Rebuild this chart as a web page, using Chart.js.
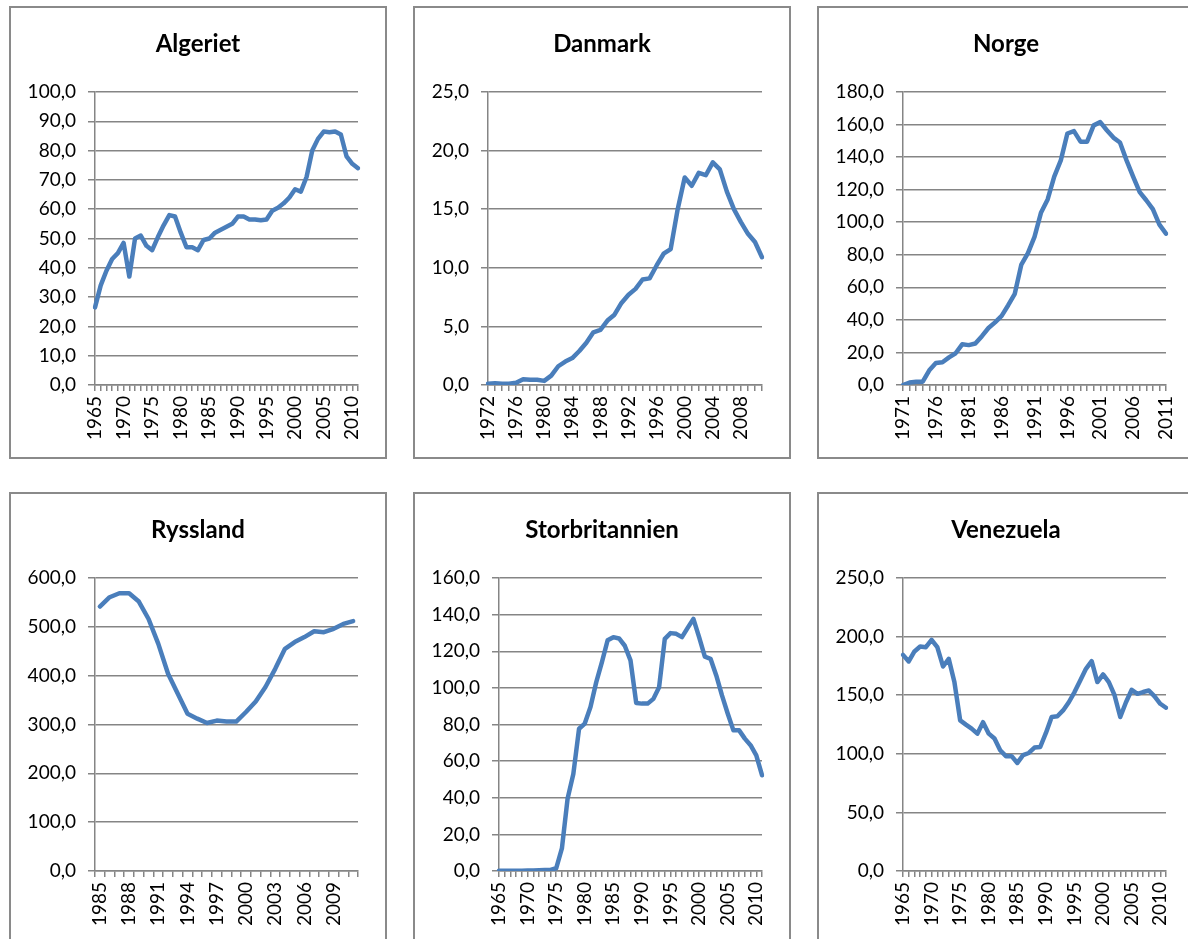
<!DOCTYPE html>
<html>
<head>
<meta charset="utf-8">
<script src="https://cdn.jsdelivr.net/npm/chart.js@4.4.0/dist/chart.umd.min.js"></script>
<style>
  html, body { margin: 0; padding: 0; background: #fff; overflow: hidden; width: 1188px; height: 939px; }
  .panel { position: absolute; width: 378px; height: 453px; box-sizing: border-box; border: 2px solid #8a8a8a; background: #fff; }
  .panel canvas { position: absolute; left: -2px; top: -2px; }
</style>
</head>
<body>
<div class="panel" style="left:9px; top:6px;"><canvas id="c1" width="378" height="453"></canvas></div>
<div class="panel" style="left:413px; top:6px;"><canvas id="c2" width="378" height="453"></canvas></div>
<div class="panel" style="left:817px; top:6px;"><canvas id="c3" width="378" height="453"></canvas></div>
<div class="panel" style="left:9px; top:492px;"><canvas id="c4" width="378" height="453"></canvas></div>
<div class="panel" style="left:413px; top:492px;"><canvas id="c5" width="378" height="453"></canvas></div>
<div class="panel" style="left:817px; top:492px;"><canvas id="c6" width="378" height="453"></canvas></div>

<script>
// categories
const years1965 = ['1965','1966','1967','1968','1969','1970','1971','1972','1973','1974','1975','1976','1977','1978','1979',
  '1980','1981','1982','1983','1984','1985','1986','1987','1988','1989','1990','1991','1992','1993','1994','1995','1996',
  '1997','1998','1999','2000','2001','2002','2003','2004','2005','2006','2007','2008','2009','2010','2011'];
const years1972 = ['1972','1973','1974','1975','1976','1977','1978','1979','1980','1981','1982','1983','1984','1985',
  '1986','1987','1988','1989','1990','1991','1992','1993','1994','1995','1996','1997','1998','1999','2000','2001','2002',
  '2003','2004','2005','2006','2007','2008','2009','2010','2011'];
const years1971 = ['1971','1972','1973','1974','1975','1976','1977','1978','1979','1980','1981','1982','1983','1984',
  '1985','1986','1987','1988','1989','1990','1991','1992','1993','1994','1995','1996','1997','1998','1999','2000','2001',
  '2002','2003','2004','2005','2006','2007','2008','2009','2010','2011'];
const years1985 = ['1985','1986','1987','1988','1989','1990','1991','1992','1993','1994','1995','1996','1997','1998',
  '1999','2000','2001','2002','2003','2004','2005','2006','2007','2008','2009','2010','2011'];

// tick labels that are printed
const ticks5from1965 = ['1965','1970','1975','1980','1985','1990','1995','2000','2005','2010'];
const ticks4from1972 = ['1972','1976','1980','1984','1988','1992','1996','2000','2004','2008'];
const ticks5from1971 = ['1971','1976','1981','1986','1991','1996','2001','2006','2011'];
const ticks3from1985 = ['1985','1988','1991','1994','1997','2000','2003','2006','2009'];

// series values
const algeriet = [26.5,34,39,43,45,48.5,37,50,51,47.5,46,50.5,54.5,58,57.5,52,47,47,46,49.5,50,52,53,54,55,57.5,57.5,
  56.5,56.5,56.2,56.5,59.5,60.5,62,64,66.8,66,71,80,84,86.5,86.3,86.5,85.5,78,75.5,74];
const danmark = [0.1,0.15,0.1,0.1,0.2,0.5,0.45,0.45,0.35,0.8,1.6,2.0,2.3,2.9,3.6,4.5,4.7,5.5,6.0,7.0,7.7,8.2,9.0,9.1,
  10.2,11.2,11.6,15.0,17.7,17.0,18.1,17.9,19.0,18.4,16.5,15.0,13.9,12.9,12.2,10.9];
const norge = [0,1.5,2,2,9,13.5,14,17,19.5,25,24.5,25.5,30,35,38.5,42.5,49,56,74,81,91,106,114,128,138,154.5,156,149.5,
  149.5,159.5,161.5,156.5,152,149,138,128,118.5,113.5,108,98.5,93];
const ryssland = [541.5,560.6,568.8,568.8,551.8,516,465,404,363,322,312,303,308,306,306,325.6,347,376.7,414,455,468.7,
  479,491,489,496,506,511.6];
const storbritannien = [0.2,0.2,0.2,0.2,0.2,0.3,0.3,0.4,0.5,0.6,1.5,12.3,39.6,53,77.7,80.5,89.5,103,114,126,127.7,127,
  123,115,91.7,91.4,91.4,94,100.4,126.8,129.9,129.5,127.7,132.8,137.7,127.7,117,115.9,106.8,95.9,86,76.8,76.8,72.3,
  68.7,63.2,52.3];
const venezuela = [184.4,178.8,187.3,191.5,191,197.2,191,174.5,181,161,128.5,124.9,121.5,117.2,127,117.2,113,103,98,98,
  92.2,98.8,100.7,105.3,105.8,117.8,131.4,132,137,144,152.7,162.6,172.5,179,161.2,167.7,161.2,150,131.4,144,154.6,
  151.2,152.7,154,149,142.7,139.3];

const GRID = '#858585';
const LINE = '#4a7ebb';
const FONT = 'Lato, "Open Sans", sans-serif';

// title centred on the whole panel, like the Excel chart title
const panelTitle = {
  id: 'panelTitle',
  afterDraw(chart, args, opts) {
    const c = chart.ctx;
    c.save();
    c.font = 'bold 24px ' + FONT;
    c.fillStyle = '#000';
    c.textAlign = 'center';
    c.textBaseline = 'middle';
    c.fillText(opts.text, chart.width / 2, 38);
    c.restore();
  },
};

function makeChart(id, title, labels, values, shown, maxY, step, leftW, betweenTicks) {
  const ctx = document.getElementById(id).getContext('2d');
  return new Chart(ctx, {
    type: 'line',
    data: {
      labels: labels,
      datasets: [{
        data: values,
        borderColor: LINE,
        borderWidth: 4.5,
        pointRadius: 0,
        tension: 0,
        borderJoinStyle: 'round',
        borderCapStyle: 'round',
        fill: false,
      }],
    },
    plugins: [panelTitle],
    options: {
      responsive: false,
      animation: false,
      layout: { padding: { top: 86, right: 29, bottom: 0, left: 0 } },
      plugins: {
        legend: { display: false },
        tooltip: { enabled: false },
        title: { display: false },
        panelTitle: { text: title },
      },
      scales: {
        x: {
          offset: !!betweenTicks,
          afterFit: (s) => { s.height = 74; },
          grid: {
            display: true,
            drawOnChartArea: false,
            drawTicks: true,
            tickLength: 6,
            color: GRID,
            lineWidth: 1.5,
            offset: !!betweenTicks,
          },
          border: { display: true, color: GRID, width: 1.5 },
          ticks: {
            autoSkip: false,
            minRotation: 90,
            maxRotation: 90,
            padding: 5,
            color: '#000',
            font: { family: FONT, size: 19 },
            callback: function (val) {
              const lab = this.getLabelForValue(val);
              return shown.includes(lab) ? lab : '';
            },
          },
        },
        y: {
          min: 0,
          max: maxY,
          afterFit: (s) => { s.width = leftW; },
          grid: { color: GRID, lineWidth: 1.5, tickLength: 7, drawTicks: true },
          border: { display: true, color: GRID, width: 1.5 },
          ticks: {
            stepSize: step,
            padding: 12,
            color: '#000',
            font: { family: FONT, size: 19 },
            callback: (v) => v.toFixed(1).replace('.', ','),
          },
        },
      },
    },
  });
}

makeChart('c1', 'Algeriet', years1965, algeriet, ticks5from1965, 100, 10, 86, false);
makeChart('c2', 'Danmark', years1972, danmark, ticks4from1972, 25, 5, 75, false);
makeChart('c3', 'Norge', years1971, norge, ticks5from1971, 180, 20, 86, false);
makeChart('c4', 'Ryssland', years1985, ryssland, ticks3from1985, 600, 100, 86, true);
makeChart('c5', 'Storbritannien', years1965, storbritannien, ticks5from1965, 160, 20, 86, false);
makeChart('c6', 'Venezuela', years1965, venezuela, ticks5from1965, 250, 50, 86, false);
</script>
</body>
</html>
